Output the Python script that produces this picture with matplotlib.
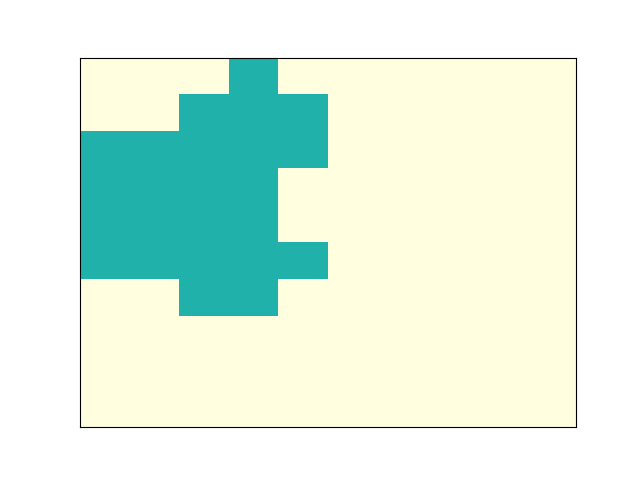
import numpy as np
import matplotlib
matplotlib.use('Agg')
import matplotlib.pyplot as plt
from matplotlib.colors import ListedColormap

# occupancy grid, row 0 = top
grid = np.array([
    [0, 0, 0, 1, 0, 0, 0, 0, 0, 0],
    [0, 0, 1, 1, 1, 0, 0, 0, 0, 0],
    [1, 1, 1, 1, 1, 0, 0, 0, 0, 0],
    [1, 1, 1, 1, 0, 0, 0, 0, 0, 0],
    [1, 1, 1, 1, 0, 0, 0, 0, 0, 0],
    [1, 1, 1, 1, 1, 0, 0, 0, 0, 0],
    [0, 0, 1, 1, 0, 0, 0, 0, 0, 0],
    [0, 0, 0, 0, 0, 0, 0, 0, 0, 0],
    [0, 0, 0, 0, 0, 0, 0, 0, 0, 0],
    [0, 0, 0, 0, 0, 0, 0, 0, 0, 0],
])

cmap = ListedColormap(['lightyellow', 'lightseagreen'])

fig, ax = plt.subplots(figsize=(6.4, 4.8), dpi=100)
ax.imshow(grid, cmap=cmap, vmin=0, vmax=1, aspect='auto', interpolation='nearest')
ax.set_xticks([])
ax.set_yticks([])

fig.savefig('out.png', dpi=100)
